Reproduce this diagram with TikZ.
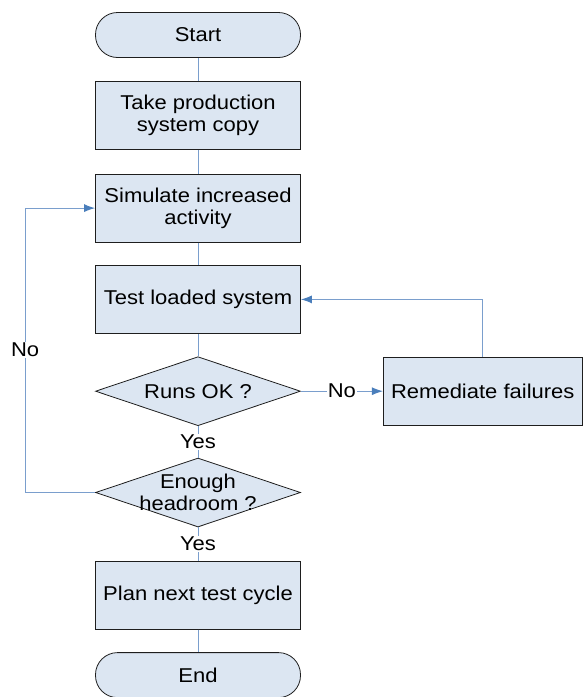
\documentclass[tikz,border=0pt]{standalone}
\usepackage{fontspec}
\setmainfont{Liberation Sans}[FakeStretch=1.1]
\usetikzlibrary{shapes.geometric, arrows.meta, positioning}
\definecolor{boxfill}{RGB}{220,230,242}
\definecolor{linkblue}{RGB}{122,158,205}
\definecolor{tipblue}{RGB}{74,126,187}
\definecolor{edgegrey}{RGB}{30,30,30}

\begin{document}
\begin{tikzpicture}[
    x=1pt, y=-1pt,
    font=\fontsize{20}{22}\selectfont,
    terminal/.style={rectangle, draw=edgegrey, fill=boxfill, rounded corners=22pt, minimum width=205pt, minimum height=45pt, line width=0.8pt},
    process/.style={rectangle, draw=edgegrey, fill=boxfill, minimum width=205pt, minimum height=68pt, align=center, inner sep=2pt, line width=0.8pt},
    decision/.style={diamond, draw=edgegrey, fill=boxfill, aspect=3, inner sep=0pt, minimum width=205pt, minimum height=69pt, line width=0.8pt},
    link/.style={linkblue, line width=1pt},
    arrow/.style={link, -{Latex[length=11pt, width=8pt, color=tipblue]}},
    answer/.style={fill=white, text=black, inner sep=1pt}
]
    \useasboundingbox (0,0) rectangle (582,697);
    \node[terminal] (start) at (198,35) {Start};
    \node[process, below=23.5pt of start] (copy) {Take production\\system copy};
    \node[process, below=23.5pt of copy] (simulate) {Simulate increased\\activity};
    \node[process, below=22.5pt of simulate] (test) {Test loaded system};
    \node[decision, below=22.5pt of test, label={center:Runs OK ?}] (runs) {};
    \node[process, right=82pt of runs, minimum width=199pt] (fix) {Remediate failures};
    \node[decision, below=31.5pt of runs, label={[align=center]center:Enough\\headroom ?}] (enough) {};
    \node[process, below=33.5pt of enough] (plan) {Plan next test cycle};
    \node[terminal, below=22.5pt of plan] (end) {End};

    \draw[link] (start) -- (copy);
    \draw[link] (copy) -- (simulate);
    \draw[link] (simulate) -- (test);
    \draw[link] (test) -- (runs);
    \draw[arrow] (runs.east) -- node[answer] {No} (fix.west);
    \draw[arrow] (fix.north) |- (test.east);
    \draw[link] (runs.south) -- node[answer] {Yes} (enough.north);
    \draw[arrow] (enough.west) -- ++(-70,0) coordinate (noturn) |- (simulate.west);
    \node[answer] (nolabel) at (noturn |- 0,350) {No};
    \draw[link] (enough.south) -- node[answer] {Yes} (plan.north);
    \draw[link] (plan) -- (end);
\end{tikzpicture}
\end{document}
